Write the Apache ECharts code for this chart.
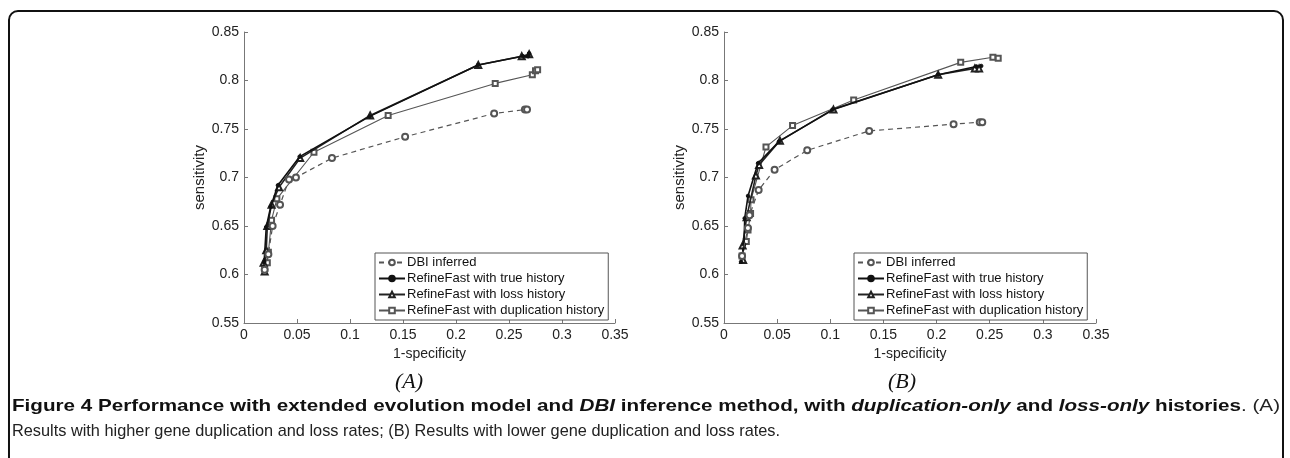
<!DOCTYPE html>
<html><head><meta charset="utf-8">
<script src="https://cdn.jsdelivr.net/npm/echarts@6/dist/echarts.min.js"></script>
<style>html,body{margin:0;padding:0;background:#fff}#c{width:1290px;height:458px}</style>
</head><body><div id="c"></div>
<script>
// ---- data (x = 1-specificity, y = sensitivity) ----
const seriesNames = ['DBI inferred', 'RefineFast with true history', 'RefineFast with loss history', 'RefineFast with duplication history'];
const xTicks = [0, 0.05, 0.1, 0.15, 0.2, 0.25, 0.3, 0.35];
const yTicks = [0.55, 0.6, 0.65, 0.7, 0.75, 0.8, 0.85];

// Panel A: higher duplication/loss rates
const dbiA  = [[0.0195,0.605],[0.023,0.621],[0.027,0.650],[0.034,0.672],[0.0425,0.698],[0.049,0.700],[0.083,0.720],[0.152,0.742],[0.236,0.766],[0.265,0.770],[0.267,0.770]];
const trueA = [[0.0186,0.605],[0.019,0.613],[0.021,0.649],[0.0252,0.670],[0.032,0.692],[0.0525,0.7215],[0.1186,0.763],[0.2208,0.816],[0.263,0.825],[0.268,0.825],[0.269,0.828]];
const lossA = [[0.0185,0.612],[0.0195,0.603],[0.021,0.625],[0.022,0.650],[0.026,0.672],[0.033,0.690],[0.053,0.720],[0.119,0.764],[0.221,0.816],[0.262,0.825],[0.269,0.827]];
const dupA  = [[0.0195,0.606],[0.022,0.612],[0.023,0.623],[0.026,0.656],[0.031,0.678],[0.066,0.726],[0.136,0.764],[0.237,0.797],[0.272,0.806],[0.275,0.810],[0.277,0.811]];

// Panel B: lower duplication/loss rates
const dbiB  = [[0.017,0.619],[0.0225,0.648],[0.024,0.661],[0.0326,0.687],[0.0476,0.708],[0.0783,0.728],[0.1366,0.748],[0.216,0.755],[0.2406,0.757],[0.243,0.757]];
const trueB = [[0.016,0.613],[0.0188,0.631],[0.0195,0.658],[0.0226,0.681],[0.032,0.7147],[0.0517,0.737],[0.102,0.770],[0.2014,0.806],[0.2375,0.8145],[0.242,0.815]];
const lossB = [[0.018,0.615],[0.0175,0.630],[0.0213,0.659],[0.030,0.702],[0.033,0.713],[0.0526,0.738],[0.103,0.770],[0.2015,0.806],[0.236,0.8125],[0.240,0.8125]];
const dupB  = [[0.017,0.619],[0.021,0.634],[0.0226,0.646],[0.025,0.663],[0.0254,0.677],[0.0395,0.7315],[0.0645,0.7535],[0.122,0.780],[0.2227,0.8187],[0.253,0.824],[0.258,0.823]];

const panelLabels = ['(A)', '(B)'];
const xName = '1-specificity';
const yName = 'sensitivity';
const captionBold = [
  ['b', 'Figure 4 Performance with extended evolution model and '], ['bi', 'DBI'],
  ['b', ' inference method, with '], ['bi', 'duplication-only'], ['b', ' and '],
  ['bi', 'loss-only'], ['b', ' histories'], ['n', '. (A)']
];
const captionLine2 = 'Results with higher gene duplication and loss rates; (B) Results with lower gene duplication and loss rates.';

// ---- styling ----
const FONT = '"Liberation Sans", Arial, sans-serif';
const CAP_FONT = '"Liberation Sans", Arial, sans-serif';
const CAP_SIZE = 17;
const styles = [
  {symbol:'emptyCircle', symbolSize:6, color:'#555', width:1.2, type:[5,4]},
  {symbol:'circle', symbolSize:3.5, color:'#111', width:1.6, type:'solid'},
  {symbol:'emptyTriangle', symbolSize:6, color:'#222', width:1.6, type:'solid'},
  {symbol:'emptyRect', symbolSize:5, color:'#555', width:1.1, type:'solid'}
];
const grids = [
  {left:244, top:32, width:371, height:291},
  {left:724, top:32, width:372, height:291}
];
const panelData = [[dbiA, trueA, lossA, dupA], [dbiB, trueB, lossB, dupB]];

function axisCommon() {
  return {
    axisLine:{show:true, onZero:false, lineStyle:{color:'#777', width:1}},
    axisTick:{show:true, inside:true, length:4, lineStyle:{color:'#777'}},
    splitLine:{show:false},
    axisLabel:{color:'#222', fontFamily:FONT, fontSize:14},
    nameTextStyle:{color:'#222', fontFamily:FONT, fontSize:14}
  };
}
const xAxis = [], yAxis = [], series = [], legend = [];
grids.forEach((g, i) => {
  xAxis.push(Object.assign(axisCommon(), {
    type:'value', gridIndex:i, min:xTicks[0], max:xTicks[xTicks.length-1], interval:0.05,
    name:xName, nameLocation:'middle', nameGap:22
  }));
  xAxis[i].axisLabel.margin = 5;
  xAxis[i].axisLabel.formatter = v => String(+v.toFixed(2));
  yAxis.push(Object.assign(axisCommon(), {
    type:'value', gridIndex:i, min:yTicks[0], max:yTicks[yTicks.length-1], interval:0.05,
    name:yName, nameLocation:'middle', nameGap:32
  }));
  yAxis[i].nameTextStyle.fontSize = 15;
  yAxis[i].axisLabel.margin = 5;
  yAxis[i].axisLabel.formatter = v => String(+v.toFixed(2));
  panelData[i].forEach((d, k) => {
    const s = styles[k];
    series.push({
      type:'line', name:seriesNames[k], xAxisIndex:i, yAxisIndex:i, data:d,
      symbol:s.symbol, symbolSize:s.symbolSize, showSymbol:true, animation:false,
      itemStyle:{color:s.color, borderColor:s.color, borderWidth:1},
      lineStyle:{color:s.color, width:s.width, type:s.type},
      z: 10 - k
    });
  });
  legend.push({
    left: i === 0 ? 375 : 854, top:253, orient:'vertical',
    data: seriesNames, itemWidth:26, itemHeight:7, itemGap:3,
    borderColor:'#555', borderWidth:1, backgroundColor:'#fff', padding:[3,4,3,3],
    textStyle:{color:'#111', fontFamily:FONT, fontSize:13, padding:[0,0,0,-3]},
    selectedMode:false
  });
});

// fit caption lines to their widths in the figure (layout only)
const ctx = document.createElement('canvas').getContext('2d');
function segFont(kind) {
  return (kind === 'bi' ? 'italic ' : '') + (kind === 'n' ? '' : 'bold ') + CAP_SIZE + 'px ' + CAP_FONT;
}
let w1 = 0;
captionBold.forEach(([k, t]) => { ctx.font = segFont(k); w1 += ctx.measureText(t).width; });
ctx.font = CAP_SIZE + 'px ' + CAP_FONT;
const w2 = ctx.measureText(captionLine2).width;
const sx1 = 1268 / w1, sx2 = 768 / w2;

const rich = {
  b:{fontFamily:CAP_FONT, fontWeight:'bold', fontSize:CAP_SIZE, fill:'#111'},
  bi:{fontFamily:CAP_FONT, fontWeight:'bold', fontStyle:'italic', fontSize:CAP_SIZE, fill:'#111'},
  n:{fontFamily:CAP_FONT, fontSize:CAP_SIZE, fill:'#222'}
};

const graphic = [
  {type:'rect', shape:{x:9, y:11, width:1274, height:520, r:9}, style:{fill:null, stroke:'#111', lineWidth:2}, silent:true},
  {type:'text', x:409, y:382, style:{text:panelLabels[0], font:'italic 22px "Liberation Serif", serif', fill:'#111', align:'center', verticalAlign:'middle'}},
  {type:'text', x:902, y:382, style:{text:panelLabels[1], font:'italic 22px "Liberation Serif", serif', fill:'#111', align:'center', verticalAlign:'middle'}},
  {type:'text', x:12, y:406, scaleX:sx1, originX:0, style:{
    rich, verticalAlign:'middle',
    text: captionBold.map(([k, t]) => '{' + k + '|' + t + '}').join('')
  }},
  {type:'text', x:12, y:431, scaleX:sx2, style:{
    text:captionLine2, verticalAlign:'middle',
    font: CAP_SIZE + 'px ' + CAP_FONT, fill:'#222'
  }}
];

const chart = echarts.init(document.getElementById('c'), null, {renderer:'canvas'});
chart.setOption({
  animation:false, backgroundColor:'#fff',
  grid: grids.map(g => Object.assign({containLabel:false}, g)),
  xAxis, yAxis, series, legend, graphic
});
</script>
</body></html>
